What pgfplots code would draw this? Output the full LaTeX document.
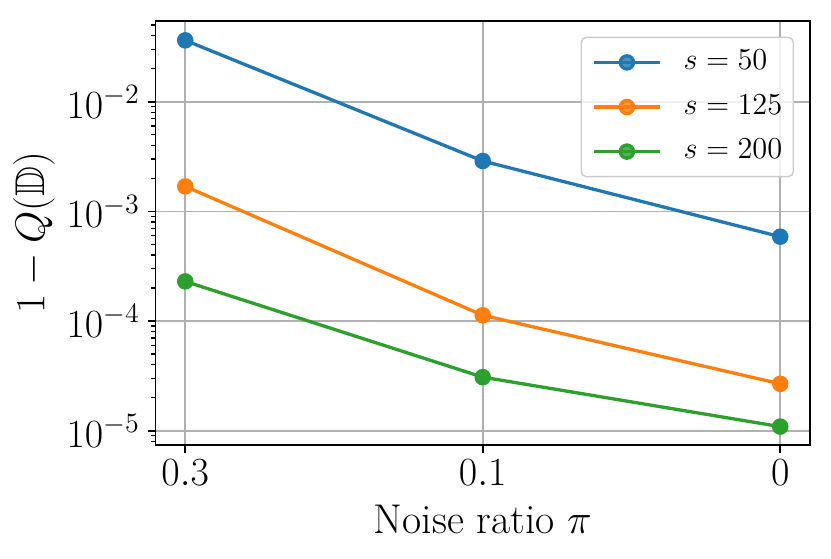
\RequirePackage{fix-cm}
\documentclass[border=0pt]{standalone}
\usepackage{amssymb}
\usepackage{pgfplots}
\pgfplotsset{compat=1.18}
\definecolor{c0}{HTML}{1F77B4}
\definecolor{c1}{HTML}{FF7F0E}
\definecolor{c2}{HTML}{2CA02C}
\definecolor{gridc}{HTML}{B0B0B0}
\definecolor{legc}{HTML}{CCCCCC}
\begin{document}
\begin{tikzpicture}
\begin{axis}[
  name=ax, at={(0,0)}, anchor=south west,
  scale only axis, width=327.25pt, height=212.15pt,
  ymode=log,
  xmin=-0.1, xmax=2.1,
  ymin=7.41e-6, ymax=5.48e-2,
  xtick={0,1,2}, xticklabels={$0.3$,$0.1$,$0$},
  ytick={1e-5,1e-4,1e-3,1e-2},
  yticklabels={$10^{-5}$,$10^{-4}$,$10^{-3}$,$10^{-2}$},
  minor ytick={8e-6,9e-6,2e-5,3e-5,4e-5,5e-5,6e-5,7e-5,8e-5,9e-5,2e-4,3e-4,4e-4,5e-4,6e-4,7e-4,8e-4,9e-4,2e-3,3e-3,4e-3,5e-3,6e-3,7e-3,8e-3,9e-3,2e-2,3e-2,4e-2,5e-2},
  minor xtick={},
  xtick pos=bottom, ytick pos=left,
  tick align=outside,
  major tick length=3.85pt, minor tick length=2.2pt,
  every major tick/.style={line width=0.88pt, black},
  every minor tick/.style={line width=0.66pt, black},
  axis line style={line width=0.88pt, black},
  grid=major,
  major grid style={line width=0.88pt, gridc},
  ticklabel style={font=\fontsize{20}{24}\selectfont},
  yticklabel style={xshift=-0.5pt},
  label style={font=\fontsize{20.8}{25}\selectfont},
  xlabel={Noise ratio $\pi$},
  ylabel={$1 - Q(\mathbb{D})$},
  xlabel style={yshift=-3pt},
  ylabel style={yshift=-1pt},
  legend cell align=left,
  legend style={
    at={(1,1)}, anchor=north east, xshift=-8pt, yshift=-8pt,
    draw=legc, line width=0.7pt, rounded corners=2.5pt,
    fill=white, fill opacity=0.8, text opacity=1,
    font=\fontsize{15.2}{18}\selectfont,
    inner xsep=5.5pt, inner ysep=5.5pt,
    row sep=8.3pt, column sep=11pt,
    nodes={inner sep=0pt, text height=10.5pt, text depth=3.5pt},
  },
  legend image code/.code={
    \draw[mark repeat=2, mark phase=2] plot coordinates {(0pt,0pt) (16.5pt,0pt) (33pt,0pt)};
  },
  every axis plot/.append style={line width=1.65pt, mark=*, mark size=3.3pt, mark options={solid}},
]
\addplot[c0, mark options={fill=c0, draw=c0}] coordinates {(0,3.63e-2) (1,2.88e-3) (2,5.88e-4)};
\addlegendentry{$s = 50$}
\addplot[c1, mark options={fill=c1, draw=c1}] coordinates {(0,1.69e-3) (1,1.13e-4) (2,2.68e-5)};
\addlegendentry{$s = 125$}
\addplot[c2, mark options={fill=c2, draw=c2}] coordinates {(0,2.30e-4) (1,3.08e-5) (2,1.09e-5)};
\addlegendentry{$s = 200$}
\end{axis}
\pgfresetboundingbox
\path[use as bounding box] (-77.75pt,-56.5pt) rectangle (337.75pt,222.5pt);
\end{tikzpicture}
\end{document}
